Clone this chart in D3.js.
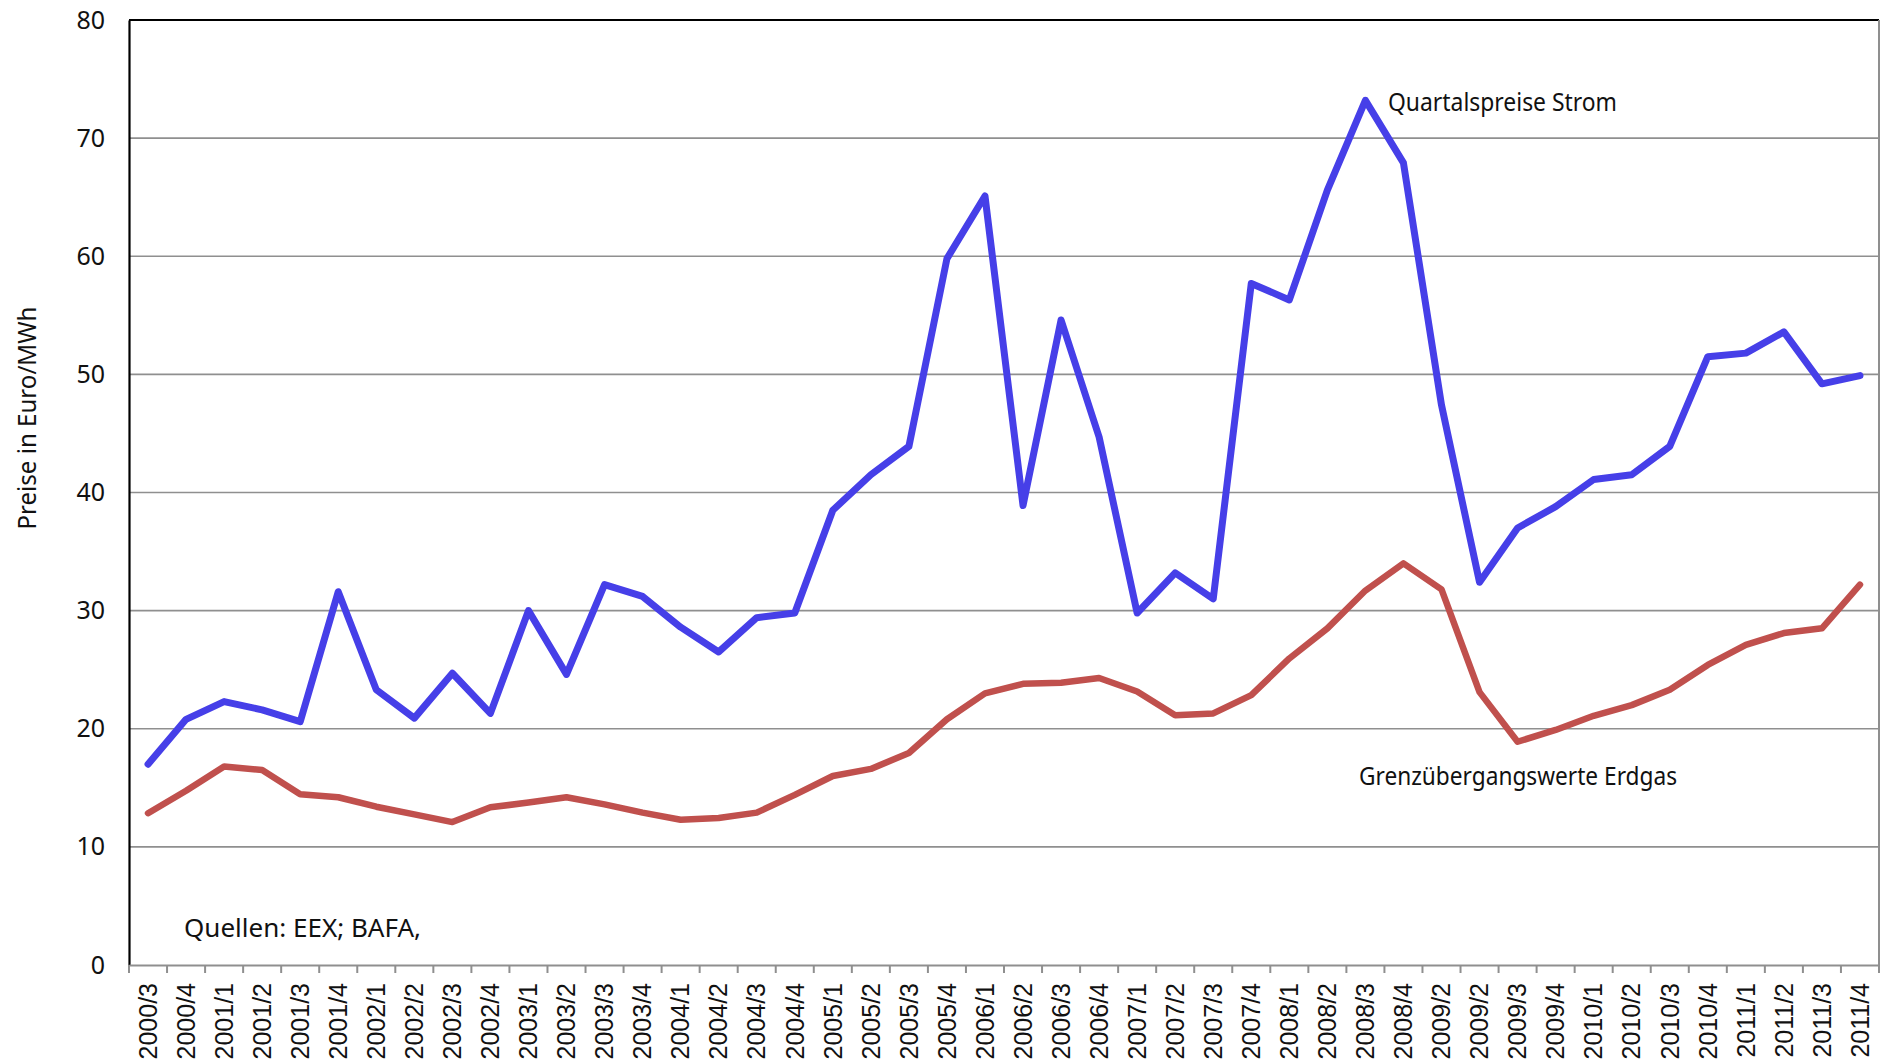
<!DOCTYPE html>
<html>
<head>
<meta charset="utf-8">
<script src="https://cdn.jsdelivr.net/npm/d3@7"></script>
<style>
  html, body { margin: 0; padding: 0; background: #fff; }
  svg { display: block; }
  .tick-label { font-family: "Noto Sans", "Open Sans", sans-serif; font-size: 25px; fill: #111; }
  .cat-label { font-family: "Liberation Sans", Arial, sans-serif; font-size: 25px; fill: #111; }
  .note { font-family: "Noto Sans", "Open Sans", sans-serif; font-size: 26px; fill: #111; }
</style>
</head>
<body>
<svg id="chart" width="1888" height="1062"></svg>
<script>
// Quarters on the category axis (the source repeats "2009/2")
const quarters = [
  '2000/3', '2000/4',
  '2001/1', '2001/2', '2001/3', '2001/4',
  '2002/1', '2002/2', '2002/3', '2002/4',
  '2003/1', '2003/2', '2003/3', '2003/4',
  '2004/1', '2004/2', '2004/3', '2004/4',
  '2005/1', '2005/2', '2005/3', '2005/4',
  '2006/1', '2006/2', '2006/3', '2006/4',
  '2007/1', '2007/2', '2007/3', '2007/4',
  '2008/1', '2008/2', '2008/3', '2008/4',
  '2009/2', '2009/2', '2009/3', '2009/4',
  '2010/1', '2010/2', '2010/3', '2010/4',
  '2011/1', '2011/2', '2011/3', '2011/4'
];

// Quartalspreise Strom (EEX), Euro/MWh
const strom = [
  17.0, 20.8, 22.3, 21.6, 20.6, 31.6, 23.3, 20.9, 24.7, 21.3, 30.0, 24.6,
  32.2, 31.2, 28.6, 26.5, 29.4, 29.8, 38.5, 41.5, 43.9, 59.8, 65.1, 38.9,
  54.6, 44.7, 29.8, 33.2, 31.0, 57.7, 56.3, 65.6, 73.2, 67.9, 47.4, 32.4,
  37.0, 38.8, 41.1, 41.5, 43.9, 51.5, 51.8, 53.6, 49.2, 49.9
];

// Grenzübergangswerte Erdgas (BAFA), Euro/MWh
const erdgas = [
  12.85, 14.75, 16.8, 16.5, 14.45, 14.2, 13.4, 12.75, 12.1, 13.35, 13.75, 14.2,
  13.6, 12.9, 12.3, 12.45, 12.9, 14.4, 16.0, 16.6, 17.95, 20.8, 23.0, 23.8,
  23.9, 24.3, 23.15, 21.15, 21.3, 22.85, 25.95, 28.5, 31.7, 34.0, 31.8, 23.1,
  18.9, 19.9, 21.1, 22.0, 23.3, 25.4, 27.1, 28.1, 28.5, 32.2
];

const yTicks = [0, 10, 20, 30, 40, 50, 60, 70, 80];

const margin = { top: 20, right: 9, bottom: 97, left: 129 };
const W = 1888, H = 1062;
const innerW = W - margin.left - margin.right;
const innerH = H - margin.top - margin.bottom;

const svg = d3.select('#chart');
const g = svg.append('g').attr('transform', `translate(${margin.left},${margin.top})`);

const x = d3.scaleBand().domain(d3.range(quarters.length)).range([0, innerW]).padding(0);
const y = d3.scaleLinear().domain([0, 80]).range([innerH, 0]);
const cx = i => x(i) + x.bandwidth() / 2;

// ── Grid ──
g.append('g').selectAll('line')
  .data(yTicks.filter(t => t > 0 && t < 80))
  .join('line')
  .attr('x1', 0).attr('x2', innerW)
  .attr('y1', d => y(d)).attr('y2', d => y(d))
  .attr('stroke', '#8f8f8f').attr('stroke-width', 1.6);

// frame: top black, right grey
g.append('line').attr('x1', 0).attr('x2', innerW).attr('y1', 0).attr('y2', 0)
  .attr('stroke', '#000').attr('stroke-width', 2);
g.append('line').attr('x1', innerW).attr('x2', innerW).attr('y1', 0).attr('y2', innerH)
  .attr('stroke', '#8f8f8f').attr('stroke-width', 2);

// ── Y axis ──
const yAxis = g.append('g').call(d3.axisLeft(y).tickValues(yTicks).tickSize(0).tickPadding(24));
yAxis.select('.domain').attr('stroke', '#000').attr('stroke-width', 2.2);
yAxis.selectAll('text').attr('class', 'tick-label').attr('font-size', null).attr('font-family', null);

// ── X axis ──
const xAxis = g.append('g').attr('transform', `translate(0,${innerH})`)
  .call(d3.axisBottom(x).tickSize(0).tickFormat(i => quarters[i]));
xAxis.select('.domain').attr('stroke', '#8f8f8f').attr('stroke-width', 2);
xAxis.selectAll('.tick line').remove();
xAxis.selectAll('text')
  .attr('class', 'cat-label').attr('font-size', null).attr('font-family', null)
  .attr('transform', 'rotate(-90)')
  .attr('text-anchor', 'end')
  .attr('x', -18).attr('y', 0).attr('dy', '0.35em');

// tick marks on band boundaries
xAxis.append('g').selectAll('line')
  .data(d3.range(quarters.length + 1))
  .join('line')
  .attr('x1', i => i * x.step()).attr('x2', i => i * x.step())
  .attr('y1', 0).attr('y2', 8)
  .attr('stroke', '#8f8f8f').attr('stroke-width', 2);

// ── Lines ──
const line = d3.line().x((d, i) => cx(i)).y(d => y(d));

g.append('path').datum(erdgas)
  .attr('d', line).attr('fill', 'none')
  .attr('stroke', '#c0504d').attr('stroke-width', 6.5)
  .attr('stroke-linejoin', 'round').attr('stroke-linecap', 'round');

g.append('path').datum(strom)
  .attr('d', line).attr('fill', 'none')
  .attr('stroke', '#463fe8').attr('stroke-width', 7)
  .attr('stroke-linejoin', 'round').attr('stroke-linecap', 'round');

// ── Texts ──
svg.append('text').attr('class', 'note')
  .attr('transform', 'translate(36,418) rotate(-90)')
  .attr('text-anchor', 'middle')
  .attr('textLength', 223).attr('lengthAdjust', 'spacingAndGlyphs')
  .text('Preise in Euro/MWh');

svg.append('text').attr('class', 'note')
  .attr('x', 1388).attr('y', 111)
  .attr('textLength', 229).attr('lengthAdjust', 'spacingAndGlyphs')
  .text('Quartalspreise Strom');

svg.append('text').attr('class', 'note')
  .attr('x', 1359).attr('y', 785)
  .attr('textLength', 318).attr('lengthAdjust', 'spacingAndGlyphs')
  .text('Grenzübergangswerte Erdgas');

svg.append('text').attr('class', 'note')
  .attr('x', 184).attr('y', 937)
  .attr('textLength', 237).attr('lengthAdjust', 'spacingAndGlyphs')
  .text('Quellen: EEX; BAFA,');
</script>
</body>
</html>
